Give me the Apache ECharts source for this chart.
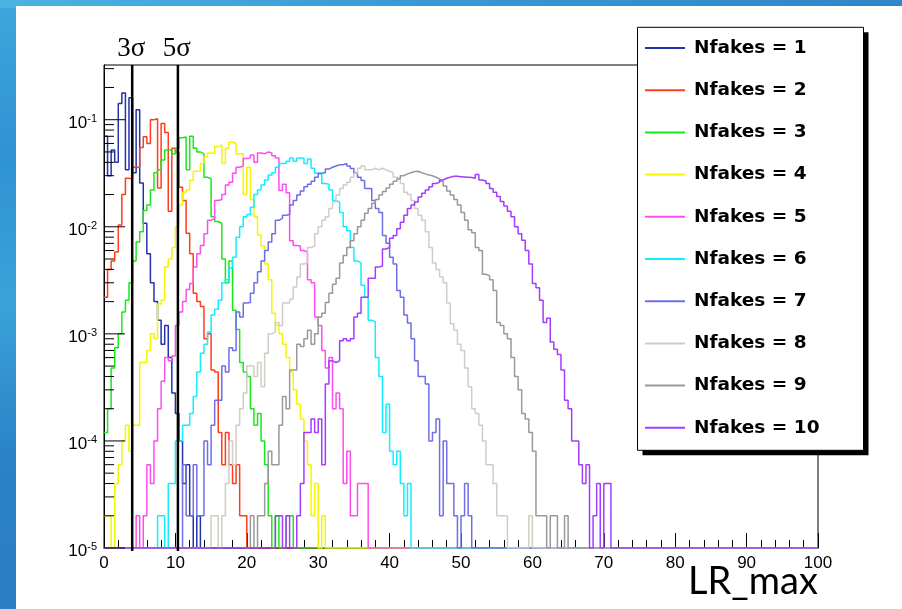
<!DOCTYPE html>
<html>
<head>
<meta charset="utf-8">
<title>LR_max distributions</title>
<script src="https://cdn.jsdelivr.net/npm/echarts@6/dist/echarts.min.js"></script>
<style>
  html, body { margin: 0; padding: 0; background: #fff; }
  #chart { width: 902px; height: 609px; }
</style>
</head>
<body>
<div id="chart"></div>
<script>
// Histogram binning: 200 bins of width 0.5 over LR_max in [0, 100],
// each histogram holds 50000 entries and is normalised to unit area.
const NEVENTS = 50000;
const BIN_WIDTH = 0.5;
const N_BINS = 200;
const X_MAX = 100;
const Y_MIN = 1e-5;
const Y_MAX = 0.3243;

const seriesNames = [
  'Nfakes = 1', 'Nfakes = 2', 'Nfakes = 3', 'Nfakes = 4', 'Nfakes = 5',
  'Nfakes = 6', 'Nfakes = 7', 'Nfakes = 8', 'Nfakes = 9', 'Nfakes = 10'
];
const seriesColors = [
  '#2233aa', '#ff3c1c', '#18e818', '#f5f500', '#ff4cf0',
  '#11eeff', '#6e6ee6', '#d2cdc4', '#999999', '#a43cff'
];

// Bin contents (entries per bin), starting at the given bin index.
const nf1Start = 0;
const nf1 = [3500,1500,2600,2000,7100,8900,1700,8000,1600,6200,1280,540,280,150,100,67,40,60,30,14,9,5,2,3,1,0,1];
const nf2Start = 0;
const nf2 = [110,200,240,290,520,1000,1420,1400,1800,1800,2750,3460,3000,5000,5100,1150,4600,3800,700,2700,2500,1170,880,435,280,120,100,90,45,50,23,22,6,3,6,3,2,3,1,1];
const nf3Start = 0;
const nf3 = [6,10,24,37,50,80,103,150,240,360,450,710,800,1100,1600,1700,2100,2600,2600,2400,2700,3400,3450,1700,3500,2700,2500,2400,1450,1400,620,560,540,250,150,240,83,55,27,22,20,10,7,9,5,3,1,0,1,0,0,1,1];
const nf4Start = 0;
const nf4 = [1,1,0,2,3,5,7,4,7,7,27,27,35,50,45,95,103,210,250,320,500,800,1050,1100,1350,1650,1650,1950,2250,2450,2400,2800,2900,1950,2700,3100,3000,2400,2400,1000,1800,900,620,420,330,225,160,78,60,50,40,30,22,15,11,8,5,3,1,2,0,1];
const nf5Start = 9;
const nf5 = [1,0,1,3,2,5,10,18,30,28,31,60,80,100,130,148,210,280,335,430,575,600,880,900,1000,1230,1300,1580,1800,1850,2170,2200,2340,2000,2440,2400,2500,2450,2300,2200,1090,1250,1040,370,335,330,300,290,160,150,72,60,35,24,30,10,14,10,2,4,1,1,2,2,2];
const nf6Start = 15;
const nf6 = [1,1,0,2,2,5,5,7,7,9,13,22,33,40,52,75,85,103,150,160,205,260,400,500,620,650,760,1000,1100,1230,1370,1520,1600,1800,1950,1950,2050,2200,2050,2200,2200,1950,2150,1760,1580,1550,1270,1250,1100,880,850,680,500,460,320,240,230,142,110,67,65,30,20,6,11,4,3,4,2,1,2];
const nf7Start = 22;
const nf7 = [3,1,1,3,1,1,5,3,7,12,12,25,22,37,35,80,72,97,98,120,150,190,240,300,360,430,575,600,640,650,800,880,990,1080,1180,1250,1330,1450,1580,1600,1730,1800,1850,1900,1900,1950,1850,1750,1600,1450,1350,1140,1140,880,740,680,415,350,260,225,127,110,75,63,45,28,20,20,17,5,6,8,1,5,2,2,1,0,1,2,1];
const nf8Start = 30;
const nf8 = [1,1,0,1,2,5,3,7,10,14,25,25,20,27,16,33,50,52,64,60,97,97,105,137,170,225,230,320,330,430,500,575,620,740,850,990,1140,1230,1300,1450,1580,1760,1850,1700,1700,1760,1700,1760,1700,1650,1600,1450,1400,1270,1050,1000,880,740,640,575,450,320,230,200,170,150,97,62,54,40,35,24,16,10,9,7,5,3,3,2,1,1,1,0,0,0,0,0,0,1];
const nf9Start = 41;
const nf9 = [1,0,1,1,2,4,3,3,7,13,10,23,23,40,38,45,54,40,50,72,78,98,120,145,165,230,270,320,370,430,500,575,670,740,830,900,990,1070,1150,1250,1330,1400,1500,1560,1600,1640,1650,1600,1560,1520,1500,1450,1400,1330,1200,1080,990,900,800,680,575,470,440,320,300,180,175,160,127,64,60,50,45,30,20,15,9,8,6,4,1,1,1,0,1,1,0,0,1];
const nf10Start = 48;
const nf10 = [1,1,0,1,0,0,1,2,6,6,8,6,8,3,17,28,27,28,43,45,43,45,72,78,110,110,165,165,210,215,310,320,390,415,480,550,640,740,800,850,950,1030,1100,1180,1270,1300,1370,1420,1450,1480,1480,1470,1460,1450,1440,1420,1540,1370,1340,1270,1140,1050,960,860,780,700,620,500,430,375,300,225,148,135,103,64,70,42,36,32,23,12,10,5,5,3,2,3,0,1,2,0,2,2];

const histStarts = [nf1Start, nf2Start, nf3Start, nf4Start, nf5Start, nf6Start, nf7Start, nf8Start, nf9Start, nf10Start];
const histCounts = [nf1, nf2, nf3, nf4, nf5, nf6, nf7, nf8, nf9, nf10];

// Significance cuts drawn as vertical lines
const sigmaCuts = [3.95, 10.35];
const sigmaLabels = ['3\u03c3', '5\u03c3'];

// Step outline of one histogram: left bin edges plus the closing edge.
// Empty bins sit on the lower edge of the log axis.
function histogramPoints(start, counts) {
  const pts = [];
  for (let i = 0; i < N_BINS; i++) {
    const j = i - start;
    const c = (j >= 0 && j < counts.length) ? counts[j] : 0;
    pts.push([i * BIN_WIDTH, c > 0 ? c / NEVENTS : Y_MIN]);
  }
  pts.push([X_MAX, pts[pts.length - 1][1]]);
  return pts;
}

// Decade and sub-decade tick positions for the log axis
const yTicks = [];
for (let e = -5; e <= -1; e++) {
  for (let m = 1; m <= 9; m++) {
    const v = m * Math.pow(10, e);
    if (v <= Y_MAX * 1.0001) yTicks.push([0, v, m === 1 ? 1 : 0]);
  }
}

function powerLabel(v) {
  const l = Math.log10(v);
  const e = Math.round(l);
  if (Math.abs(l - e) > 1e-6) return '';
  return '{b|10}{s|' + e + '}';
}

const chart = echarts.init(document.getElementById('chart'), null, { renderer: 'canvas' });

const lineSeries = seriesNames.map((name, k) => ({
  type: 'line',
  name: name,
  data: histogramPoints(histStarts[k], histCounts[k]),
  step: 'end',
  symbol: 'none',
  showSymbol: false,
  color: seriesColors[k],
  lineStyle: { width: 1.5, color: seriesColors[k] },
  clip: true,
  silent: true,
  z: 2
}));

const tickSeries = {
  type: 'custom',
  name: 'yticks',
  data: yTicks,
  encode: { x: 0, y: 1 },
  clip: false,
  silent: true,
  z: 3,
  renderItem: function (params, api) {
    const p = api.coord([0, api.value(1)]);
    const len = api.value(2) ? 21 : 10;
    return {
      type: 'line',
      shape: { x1: p[0], y1: p[1], x2: p[0] + len, y2: p[1] },
      style: { stroke: '#000', lineWidth: 1 }
    };
  }
};

const sigmaSeries = {
  type: 'custom',
  name: 'sigma',
  data: sigmaCuts.map((x, i) => [x, Y_MAX, i]),
  encode: { x: 0, y: 1 },
  clip: false,
  silent: true,
  z: 3,
  renderItem: function (params, api) {
    const x = api.value(0);
    const top = api.coord([x, Y_MAX]);
    const bot = api.coord([x, Y_MIN]);
    return {
      type: 'group',
      children: [
        {
          type: 'line',
          shape: { x1: top[0], y1: top[1], x2: bot[0], y2: bot[1] + 3 },
          style: { stroke: '#000', lineWidth: 2.5 }
        },
        {
          type: 'text',
          style: {
            text: sigmaLabels[api.value(2)],
            x: top[0] - 1,
            y: top[1] - 16.5,
            align: 'center',
            verticalAlign: 'middle',
            font: '27px "Liberation Serif", "DejaVu Serif", serif',
            fill: '#000'
          }
        }
      ]
    };
  }
};

const option = {
  animation: false,
  backgroundColor: '#ffffff',
  grid: {
    left: 104, right: 84, top: 65, bottom: 61,
    show: true, borderColor: '#000', borderWidth: 1, backgroundColor: 'transparent'
  },
  xAxis: {
    type: 'value',
    min: 0, max: X_MAX, interval: 10,
    axisLine: { lineStyle: { color: '#000', width: 1 } },
    axisTick: { inside: true, length: 15, lineStyle: { color: '#000' } },
    minorTick: { show: true, splitNumber: 5, length: 8, lineStyle: { color: '#000' } },
    splitLine: { show: false },
    axisLabel: { fontFamily: '"Liberation Sans", Arial, sans-serif', fontSize: 17, color: '#000', margin: 7 }
  },
  yAxis: {
    type: 'log',
    logBase: 10,
    min: Y_MIN, max: Y_MAX,
    axisLine: { show: true, lineStyle: { color: '#000', width: 1 } },
    axisTick: { show: false },
    splitLine: { show: false },
    minorTick: { show: false },
    axisLabel: {
      margin: 7,
      color: '#000',
      padding: [7, 0, 0, 0],
      showMinLabel: true,
      showMaxLabel: true,
      formatter: powerLabel,
      rich: {
        b: { fontFamily: '"Liberation Sans", Arial, sans-serif', fontSize: 17, color: '#000' },
        s: { fontFamily: '"Liberation Sans", Arial, sans-serif', fontSize: 11, color: '#000', padding: [0, 0, 9, 0] }
      }
    }
  },
  legend: {
    orient: 'vertical',
    left: 645,
    top: 37,
    padding: 0,
    itemWidth: 40,
    itemHeight: 2,
    itemGap: 20.2,
    icon: 'rect',
    selectedMode: false,
    data: seriesNames,
    z: 5,
    textStyle: {
      fontFamily: '"DejaVu Sans", sans-serif',
      fontWeight: 'bold',
      fontSize: 18.5,
      lineHeight: 22,
      color: '#000',
      padding: [0, 0, 0, 4]
    }
  },
  graphic: [
    {
      type: 'rect', z: -100, silent: true,
      shape: { x: 0, y: 0, width: 902, height: 609 },
      style: {
        fill: new echarts.graphic.LinearGradient(0, 0, 0, 1, [
          { offset: 0, color: '#3ea6dc' },
          { offset: 0.25, color: '#2f93d2' },
          { offset: 0.5, color: '#3aa2d9' },
          { offset: 0.75, color: '#2b82c6' },
          { offset: 1, color: '#2c7cc3' }
        ])
      }
    },
    {
      type: 'rect', z: -99, silent: true,
      shape: { x: 0, y: 0, width: 902, height: 8 },
      style: {
        fill: new echarts.graphic.LinearGradient(0, 0, 1, 0, [
          { offset: 0, color: '#4bb3e2' },
          { offset: 0.5, color: '#3897d4' },
          { offset: 1, color: '#2f86c8' }
        ])
      }
    },
    {
      type: 'rect', z: -98, silent: true,
      shape: { x: 16, y: 6, width: 886, height: 603 },
      style: { fill: '#ffffff' }
    },
    {
      type: 'rect', z: 3, silent: true,
      shape: { x: 642.5, y: 32.3, width: 226, height: 423 },
      style: { fill: '#000' }
    },
    {
      type: 'rect', z: 3, silent: true,
      shape: { x: 637.5, y: 27.3, width: 226, height: 423 },
      style: { fill: '#fff', stroke: '#000', lineWidth: 1 }
    },
    {
      type: 'text', z: 6, silent: true,
      style: {
        text: 'LR_max',
        x: 688, y: 563,
        font: '38px Lato, "Open Sans", sans-serif',
        fill: '#000'
      }
    }
  ],
  series: lineSeries.concat([tickSeries, sigmaSeries])
};

chart.setOption(option);
</script>
</body>
</html>
